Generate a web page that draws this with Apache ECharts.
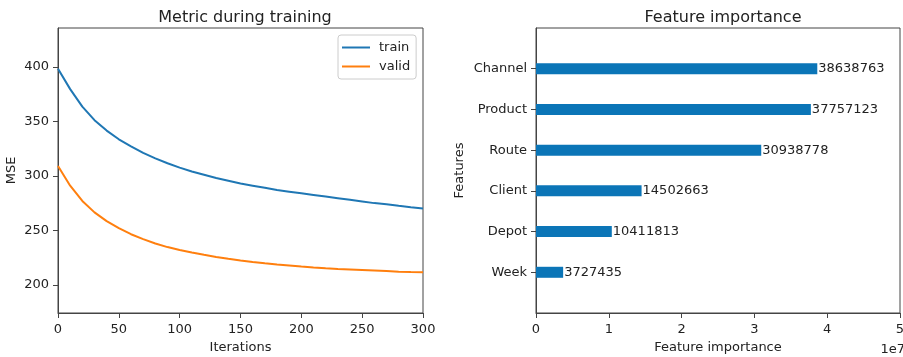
<!DOCTYPE html>
<html>
<head>
<meta charset="utf-8">
<title>Training metric and feature importance</title>
<script src="https://cdn.jsdelivr.net/npm/echarts@6/dist/echarts.min.js"></script>
<style>
  html, body { margin: 0; padding: 0; background: #fff; }
  #chart { width: 903px; height: 357px; }
</style>
</head>
<body>
<div id="chart"></div>
<script>
// Learning curves (MSE per boosting iteration)
const iterations = [0, 10, 20, 30, 40, 50, 60, 70, 80, 90, 100, 110, 120, 130, 140, 150,
  160, 170, 180, 190, 200, 210, 220, 230, 240, 250, 260, 270, 280, 290, 300];
const trainMSE = [398.2, 379.5, 363.5, 351, 341.5, 333.5, 327, 321, 316, 311.5, 307.5, 304, 301,
  298, 295.5, 293, 291, 289, 287, 285.5, 284, 282.5, 281, 279.5, 278, 276.5, 275, 274,
  272.5, 271.2, 270];
const validMSE = [309, 291, 277, 266.5, 258.5, 252, 246.5, 242, 238, 234.7, 232, 229.7,
  227.6, 225.7, 224, 222.5, 221.1, 219.9, 218.8, 217.8, 216.8, 216, 215.3, 214.7, 214.2,
  213.7, 213.2, 212.7, 212.2, 211.8, 211.6];
const mseTicks = [200, 250, 300, 350, 400];
const iterTicks = [0, 50, 100, 150, 200, 250, 300];

// Split importance per feature, bottom to top
const features = ['Week', 'Depot', 'Client', 'Route', 'Product', 'Channel'];
const importance = [3727435, 10411813, 14502663, 30938778, 37757123, 38638763];
const importanceTicks = [0, 1e7, 2e7, 3e7, 4e7, 5e7];

const FONT = 'DejaVu Sans';
const TEXT = '#222';
const SPINE = '#444';

// y-limits padded by 20% of the data range on each side
const allMSE = trainMSE.concat(validMSE);
const mseMin = Math.min.apply(null, allMSE);
const mseMax = Math.max.apply(null, allMSE);
const msePad = (mseMax - mseMin) * 0.2;

// category slots with an empty slot at each end
const featureSlots = [''].concat(features, ['']);
const importanceSlots = [null].concat(importance, [null]);

const chart = echarts.init(document.getElementById('chart'), null, { renderer: 'canvas' });

const axisCommon = {
  axisLine: { show: true, lineStyle: { color: SPINE, width: 1 } },
  axisTick: { show: true, inside: false, length: 5, lineStyle: { color: SPINE, width: 1 } },
  axisLabel: { color: TEXT, fontFamily: FONT, fontSize: 13, margin: 9 },
  splitLine: { show: false },
  nameTextStyle: { color: TEXT, fontFamily: FONT, fontSize: 13 }
};

chart.setOption({
  animation: false,
  backgroundColor: '#fff',
  textStyle: { fontFamily: FONT },
  title: [
    { text: 'Metric during training', left: 240, top: 5, textAlign: 'center',
      textStyle: { fontFamily: FONT, fontSize: 16, fontWeight: 'normal', color: TEXT } },
    { text: 'Feature importance', left: 718, top: 5, textAlign: 'center',
      textStyle: { fontFamily: FONT, fontSize: 16, fontWeight: 'normal', color: TEXT } },
    { text: '1e7', left: 900, top: 338, textAlign: 'right',
      textStyle: { fontFamily: FONT, fontSize: 13, fontWeight: 'normal', color: TEXT } }
  ],
  legend: {
    data: ['train', 'valid'],
    orient: 'vertical',
    left: 338,
    top: 35,
    padding: [3, 6, 3, 4],
    itemGap: 0,
    itemWidth: 28,
    itemHeight: 2,
    icon: 'rect',
    borderColor: '#ccc',
    borderWidth: 1,
    borderRadius: 3,
    backgroundColor: 'rgba(255,255,255,0.8)',
    textStyle: { color: TEXT, fontFamily: FONT, fontSize: 13, lineHeight: 19, padding: [0, 0, 0, 4] }
  },
  grid: [
    { left: 58, top: 28, width: 365, height: 285, outerBoundsMode: 'none',
      show: true, borderColor: SPINE, borderWidth: 1 },
    { left: 536, top: 28, width: 364, height: 285, outerBoundsMode: 'none',
      show: true, borderColor: SPINE, borderWidth: 1 }
  ],
  xAxis: [
    Object.assign({}, axisCommon, {
      gridIndex: 0, type: 'value', min: 0, max: 300, interval: 50,
      name: 'Iterations', nameLocation: 'middle', nameGap: 27,
      axisLabel: Object.assign({}, axisCommon.axisLabel, { customValues: iterTicks, margin: 10 }),
      axisTick: Object.assign({}, axisCommon.axisTick, { customValues: iterTicks })
    }),
    Object.assign({}, axisCommon, {
      gridIndex: 1, type: 'value', min: 0, max: 5e7, interval: 1e7,
      name: 'Feature importance', nameLocation: 'middle', nameGap: 27,
      axisLabel: Object.assign({}, axisCommon.axisLabel, {
        customValues: importanceTicks, margin: 10,
        formatter: function (v) { return String(Math.round(v / 1e7)); }
      }),
      axisTick: Object.assign({}, axisCommon.axisTick, { customValues: importanceTicks })
    })
  ],
  yAxis: [
    Object.assign({}, axisCommon, {
      gridIndex: 0, type: 'value', min: mseMin - msePad, max: mseMax + msePad,
      name: 'MSE', nameLocation: 'middle', nameGap: 40,
      axisLabel: Object.assign({}, axisCommon.axisLabel, { customValues: mseTicks }),
      axisTick: Object.assign({}, axisCommon.axisTick, { customValues: mseTicks })
    }),
    Object.assign({}, axisCommon, {
      gridIndex: 1, type: 'category', data: featureSlots, boundaryGap: false,
      name: 'Features', nameLocation: 'middle', nameGap: 70,
      axisLabel: Object.assign({}, axisCommon.axisLabel, { interval: 0 }),
      axisTick: Object.assign({}, axisCommon.axisTick, {
        interval: function (idx, val) { return val !== ''; }
      })
    })
  ],
  series: [
    {
      name: 'train', type: 'line', xAxisIndex: 0, yAxisIndex: 0,
      data: iterations.map(function (it, i) { return [it, trainMSE[i]]; }),
      showSymbol: false, symbol: 'none',
      lineStyle: { color: '#1f77b4', width: 2 }, itemStyle: { color: '#1f77b4' }
    },
    {
      name: 'valid', type: 'line', xAxisIndex: 0, yAxisIndex: 0,
      data: iterations.map(function (it, i) { return [it, validMSE[i]]; }),
      showSymbol: false, symbol: 'none',
      lineStyle: { color: '#ff7f0e', width: 2 }, itemStyle: { color: '#ff7f0e' }
    },
    {
      name: 'importance', type: 'bar', xAxisIndex: 1, yAxisIndex: 1,
      data: importanceSlots,
      barWidth: 11,
      itemStyle: { color: '#0b75b7' },
      label: {
        show: true, position: 'right', distance: 1,
        color: TEXT, fontFamily: FONT, fontSize: 13,
        formatter: function (p) { return String(p.value); }
      }
    }
  ]
});
</script>
</body>
</html>
